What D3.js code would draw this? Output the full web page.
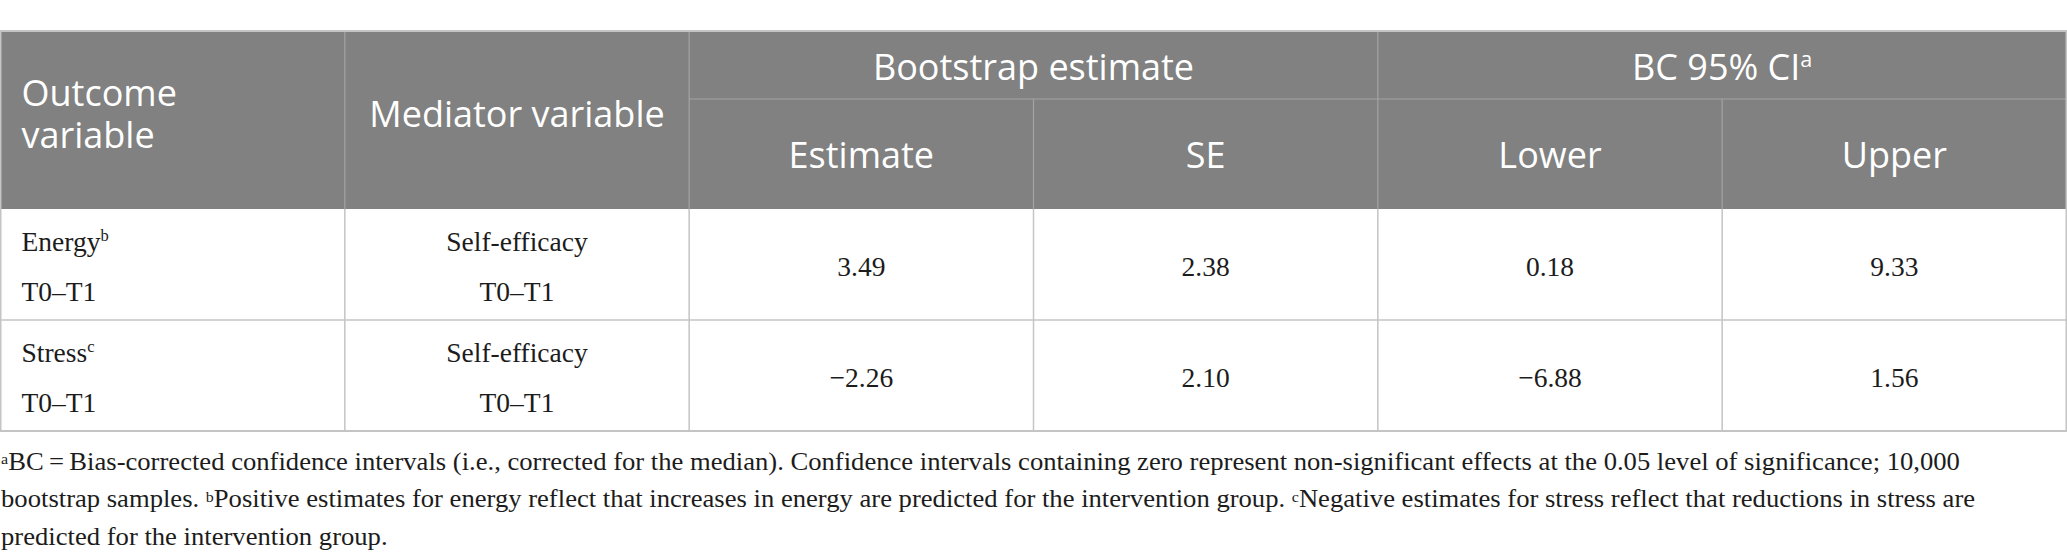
<!DOCTYPE html>
<html>
<head>
<meta charset="utf-8">
<script src="https://cdn.jsdelivr.net/npm/d3@7"></script>
<style>
  html, body { margin: 0; padding: 0; background: #ffffff; }
  svg { display: block; }
</style>
</head>
<body>
<svg id="chart"></svg>
<script>
// ---------- data ----------
const columns = ["Outcome variable", "Mediator variable", "Estimate", "SE", "Lower", "Upper"];
const firstHeaderLines = ["Outcome", "variable"];
const groupHeaders = ["Bootstrap estimate", "BC 95% CI"];
const groupNotes = ["", "a"];
const outcomes = ["Energy", "Stress"];
const outcomeNotes = ["b", "c"];
const outcomePeriods = ["T0–T1", "T0–T1"];
const mediators = ["Self-efficacy", "Self-efficacy"];
const mediatorPeriods = ["T0–T1", "T0–T1"];
const estimates = [3.49, -2.26];
const ses = [2.38, 2.10];
const lowers = [0.18, -6.88];
const uppers = [9.33, 1.56];
const footnoteLines = [
  [["a", true], ["BC\u2009=\u2009Bias-corrected confidence intervals (i.e., corrected for the median). Confidence intervals containing zero represent non-significant effects at the 0.05 level of significance; 10,000", false]],
  [["bootstrap samples. ", false], ["b", true], ["Positive estimates for energy reflect that increases in energy are predicted for the intervention group. ", false], ["c", true], ["Negative estimates for stress reflect that reductions in stress are", false]],
  [["predicted for the intervention group.", false]]
];

// ---------- layout ----------
const W = 2067, H = 559;
const svg = d3.select("#chart").attr("width", W).attr("height", H);

const x = d3.scaleBand().domain(d3.range(columns.length)).range([0.5, 2066.5]).paddingInner(0).paddingOuter(0);
const yTop = 31, yMid = 99, yHead = 209;
const rowY = d3.scaleBand().domain(d3.range(outcomes.length)).range([yHead, 431]);

const HEAD_BG = "#808180";
const HEAD_LINE = "#a3a3a3";
const GRID = "#c4c4c4";
const TXT = "#1c1c1c";
const headFont = "'Open Sans', 'Noto Sans', sans-serif";
const bodyFont = "'Liberation Serif', 'Times New Roman', serif";
const headSize = 36, bodySize = 27.5;

// header background
svg.append("rect").attr("x", 0).attr("y", yTop).attr("width", W).attr("height", yHead - yTop).attr("fill", HEAD_BG);

// header lines
const hl = svg.append("g").attr("stroke", HEAD_LINE).attr("stroke-width", 1.2);
hl.append("line").attr("x1", x(2)).attr("x2", W).attr("y1", yMid).attr("y2", yMid);
[1, 2, 4].forEach(i => hl.append("line").attr("x1", x(i)).attr("x2", x(i)).attr("y1", yTop).attr("y2", yHead));
[3, 5].forEach(i => hl.append("line").attr("x1", x(i)).attr("x2", x(i)).attr("y1", yMid).attr("y2", yHead));

// body grid
const gl = svg.append("g").attr("stroke", GRID).attr("stroke-width", 1.5);
d3.range(1, columns.length).forEach(i => gl.append("line").attr("x1", x(i)).attr("x2", x(i)).attr("y1", yHead).attr("y2", 431));
outcomes.forEach((d, i) => gl.append("line").attr("x1", 0).attr("x2", W).attr("y1", rowY(i) + rowY.bandwidth()).attr("y2", rowY(i) + rowY.bandwidth()).attr("stroke-width", i === outcomes.length - 1 ? 2.2 : 1.5));
// outer border
svg.append("line").attr("x1", 0).attr("x2", W).attr("y1", yTop).attr("y2", yTop).attr("stroke", GRID).attr("stroke-width", 2);
svg.append("line").attr("x1", 0.75).attr("x2", 0.75).attr("y1", yTop).attr("y2", 431).attr("stroke", GRID).attr("stroke-width", 1.5);
svg.append("line").attr("x1", W - 0.75).attr("x2", W - 0.75).attr("y1", yTop).attr("y2", 431).attr("stroke", GRID).attr("stroke-width", 1.5);

// header texts
const ht = svg.append("g").attr("fill", "#ffffff").attr("font-family", headFont).attr("font-size", headSize);
const h0 = ht.append("text").attr("x", x(0) + 21).attr("y", 106);
firstHeaderLines.forEach((s, k) => h0.append("tspan").attr("x", x(0) + 21).attr("dy", k === 0 ? 0 : 42).text(s));
ht.append("text").attr("x", x(1) + x.bandwidth() / 2).attr("y", 127).attr("text-anchor", "middle").text(columns[1]);
groupHeaders.forEach((g, i) => {
  const cx = x(2 + 2 * i) + x.bandwidth();
  const t = ht.append("text").attr("x", cx).attr("y", 80).attr("text-anchor", "middle").text(g);
  if (groupNotes[i]) t.append("tspan").attr("font-size", headSize * 0.6).attr("dy", -13).text(groupNotes[i]);
});
columns.slice(2).forEach((c, j) => {
  ht.append("text").attr("x", x(j + 2) + x.bandwidth() / 2).attr("y", 168).attr("text-anchor", "middle").text(c);
});

// body texts
const fmt = d3.format(".2f");
const bt = svg.append("g").attr("fill", TXT).attr("font-family", bodyFont).attr("font-size", bodySize);
outcomes.forEach((o, i) => {
  const cy = rowY(i) + rowY.bandwidth() / 2;
  const t = bt.append("text").attr("x", x(0) + 21).attr("y", cy - 13.5).text(o);
  t.append("tspan").attr("font-size", bodySize * 0.6).attr("dy", -10).text(outcomeNotes[i]);
  bt.append("text").attr("x", x(0) + 21).attr("y", cy + 36).text(outcomePeriods[i]);
  bt.append("text").attr("x", x(1) + x.bandwidth() / 2).attr("y", cy - 13.5).attr("text-anchor", "middle").text(mediators[i]);
  bt.append("text").attr("x", x(1) + x.bandwidth() / 2).attr("y", cy + 36).attr("text-anchor", "middle").text(mediatorPeriods[i]);
  [estimates, ses, lowers, uppers].forEach((arr, j) => {
    bt.append("text").attr("x", x(j + 2) + x.bandwidth() / 2).attr("y", cy + 11).attr("text-anchor", "middle").text(fmt(arr[i]));
  });
});

// footnotes (slightly condensed serif, fitted to the reference line width)
const fnBase = [470, 507.5, 545];
const fnSize = 25;
const fg = svg.append("g").attr("fill", TXT).attr("font-family", bodyFont);
const fnTexts = footnoteLines.map((parts, li) => {
  const t = fg.append("text").attr("x", 1).attr("y", fnBase[li]);
  parts.forEach(([s, sup]) => {
    if (sup) t.append("tspan").attr("font-size", fnSize * 0.6).attr("baseline-shift", "40%").text(s);
    else t.append("tspan").attr("font-size", fnSize).text(s);
  });
  return t;
});
const w0 = fnTexts[0].node().getComputedTextLength();
fg.attr("transform", `scale(${1960 / w0},1)`);
</script>
</body>
</html>
